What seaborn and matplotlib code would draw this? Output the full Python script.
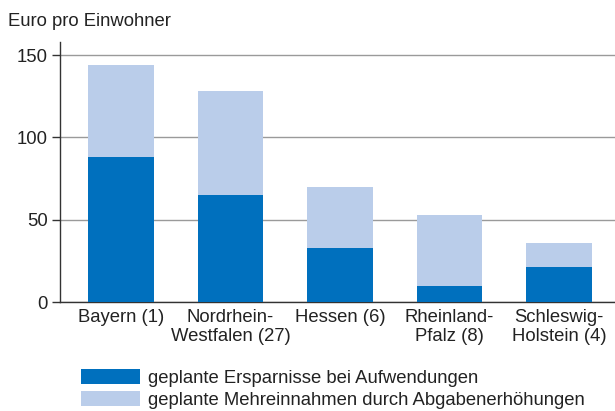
import matplotlib
matplotlib.use("Agg")
import matplotlib.pyplot as plt
import seaborn as sns
import pandas as pd

# Planned consolidation per inhabitant by state (number of municipalities in brackets)
laender = ["Bayern (1)", "Nordrhein-\nWestfalen (27)", "Hessen (6)",
           "Rheinland-\nPfalz (8)", "Schleswig-\nHolstein (4)"]
ersparnisse = [88, 65, 33, 10, 21]          # geplante Ersparnisse bei Aufwendungen
mehreinnahmen = [56, 63, 37, 43, 15]        # geplante Mehreinnahmen durch Abgabenerhöhungen
yticks = [0, 50, 100, 150]

label_dark = "geplante Ersparnisse bei Aufwendungen"
label_light = "geplante Mehreinnahmen durch Abgabenerhöhungen"
c_dark = "#0070BE"
c_light = "#BACDEA"
text_c = "#222222"
fs = 13.3

df = pd.DataFrame({
    "land": laender,
    "ersparnisse": ersparnisse,
    "gesamt": [a + b for a, b in zip(ersparnisse, mehreinnahmen)],
})

sns.set_theme(style="white")
plt.rcParams["font.family"] = ["Liberation Sans", "DejaVu Sans"]
plt.rcParams["text.color"] = text_c

fig = plt.figure(figsize=(6.15, 4.11), dpi=100)
ax = fig.add_axes([60 / 615, (411 - 302) / 411, 1 - 60 / 615, (302 - 42) / 411])

sns.barplot(data=df, x="land", y="gesamt", color=c_light, width=0.6,
            saturation=1, label=label_light, ax=ax, zorder=3, linewidth=0)
sns.barplot(data=df, x="land", y="ersparnisse", color=c_dark, width=0.6,
            saturation=1, label=label_dark, ax=ax, zorder=3, linewidth=0)

ax.set_ylim(0, 158)
ax.set_xlim(-0.555, 4.51)
ax.set_yticks(yticks)
ax.yaxis.grid(True, color="#9a9a9a", linewidth=1.0, zorder=0)
ax.set_axisbelow(True)
ax.set_xlabel("")
ax.set_ylabel("")

for side in ["top", "right"]:
    ax.spines[side].set_visible(False)
for side in ["left", "bottom"]:
    ax.spines[side].set_color("#333333")
    ax.spines[side].set_linewidth(1.0)

ax.tick_params(axis="y", which="both", left=True, length=6, width=1.0,
               color="#333333", labelsize=fs, labelcolor=text_c, pad=3)
ax.tick_params(axis="x", bottom=False, labelsize=fs, labelcolor=text_c, pad=-1)
for lbl in ax.get_xticklabels():
    lbl.set_horizontalalignment("center")
    lbl.set_linespacing(1.12)

fig.text(8 / 615, 1 - 21 / 411, "Euro pro Einwohner", fontsize=fs,
         color=text_c, va="center", ha="left")

handles, labels = ax.get_legend_handles_labels()
order = [labels.index(label_dark), labels.index(label_light)]
ax.legend([handles[i] for i in order], [labels[i] for i in order],
          loc="upper left", bbox_to_anchor=(81 / 615, 1 - 369 / 411),
          bbox_transform=fig.transFigure, frameon=False, fontsize=fs,
          handlelength=3.2, handleheight=0.86, handletextpad=0.45,
          labelspacing=0.22, borderpad=0, borderaxespad=0)

fig.savefig("out.png", dpi=100)
